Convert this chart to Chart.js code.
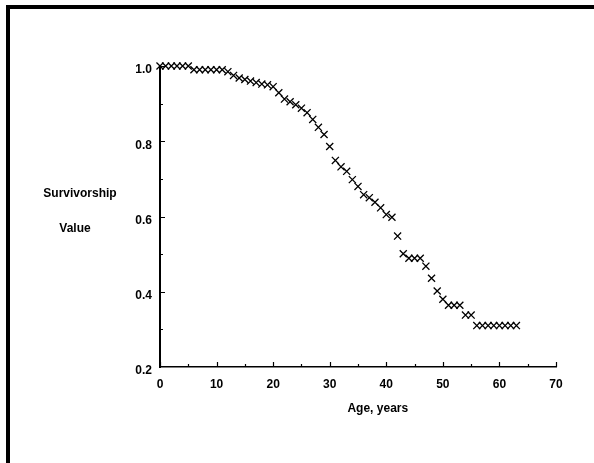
<!DOCTYPE html>
<html>
<head>
<meta charset="utf-8">
<script src="https://cdn.jsdelivr.net/npm/chart.js@4/dist/chart.umd.min.js"></script>
<style>
html, body { margin: 0; padding: 0; background: #fff; }
#wrap { position: relative; width: 594px; height: 463px; overflow: hidden; }
#frame { position: absolute; left: 6px; top: 5px; right: 0; bottom: 0; border-top: 4px solid #000; border-left: 4px solid #000; }
canvas { position: absolute; left: 0; top: 0; }
</style>
</head>
<body>
<div id="wrap">
  <div id="frame"></div>
  <canvas id="chart" width="594" height="463"></canvas>
</div>
<script>
// age (years) and survivorship
const ages = [
  0, 1, 2, 3, 4, 5, 6, 7, 8, 9,
  10, 11, 12, 13, 14, 15, 16, 17, 18, 19,
  20, 21, 22, 23, 24, 25, 26, 27, 28, 29,
  30, 31, 32, 33, 34, 35, 36, 37, 38, 39,
  40, 41, 42, 43, 44, 45, 46, 47, 48, 49,
  50, 51, 52, 53, 54, 55, 56, 57, 58, 59,
  60, 61, 62, 63
];
const survivorship = [
  1.0, 1.0, 1.0, 1.0, 1.0, 1.0, 0.99, 0.99, 0.99, 0.99,
  0.99, 0.99, 0.985, 0.975, 0.968, 0.964, 0.96, 0.956, 0.952, 0.95,
  0.945, 0.929, 0.912, 0.905, 0.897, 0.888, 0.876, 0.858, 0.837, 0.818,
  0.786, 0.749, 0.732, 0.72, 0.698, 0.68, 0.658, 0.65, 0.638, 0.623,
  0.605, 0.598, 0.548, 0.501, 0.489, 0.489, 0.489, 0.468, 0.436, 0.402,
  0.38, 0.364, 0.364, 0.364, 0.338, 0.338, 0.31, 0.31, 0.31, 0.31,
  0.31, 0.31, 0.31, 0.31
];

// tick marks drawn inward, like the original
const xTickMarks = [0, 5, 10, 15, 20, 25, 30, 35, 40, 45, 50, 55, 60, 65, 70];
const yTickMarks = [0.3, 0.4, 0.5, 0.6, 0.7, 0.8, 0.9, 1.0];

const yTitleLines = ['Survivorship', 'Value'];
const xTitle = 'Age, years';

const FONT = '"Liberation Sans", Arial, Helvetica, sans-serif';

const inwardTicks = {
  id: 'inwardTicks',
  afterDraw(chart) {
    const ctx = chart.ctx;
    const x = chart.scales.x, y = chart.scales.y;
    ctx.save();
    ctx.strokeStyle = '#000';
    ctx.lineWidth = 1.2;
    ctx.beginPath();
    for (const v of xTickMarks) {
      const px = Math.round(x.getPixelForValue(v)) + 0.5;
      const len = v % 10 === 0 ? 5 : 3;
      ctx.moveTo(px, y.bottom);
      ctx.lineTo(px, y.bottom - len);
    }
    for (const v of yTickMarks) {
      const py = Math.round(y.getPixelForValue(v)) + 0.5;
      const len = Math.round(v * 10) % 2 === 0 ? 5 : 3;
      ctx.moveTo(x.left, py);
      ctx.lineTo(x.left + len, py);
    }
    ctx.stroke();

    // axis titles, placed as in the scan
    ctx.fillStyle = '#000';
    ctx.font = 'bold 12px ' + FONT;
    ctx.textAlign = 'center';
    ctx.textBaseline = 'middle';
    ctx.fillText(yTitleLines[0], x.left - 80, y.getPixelForValue(0.66));
    ctx.fillText(yTitleLines[1], x.left - 85, y.getPixelForValue(0.567));
    ctx.fillText(xTitle, x.getPixelForValue(38.5), y.bottom + 42);
    ctx.restore();
  }
};

new Chart(document.getElementById('chart'), {
  type: 'scatter',
  data: {
    datasets: [{
      data: ages.map((a, i) => ({x: a, y: survivorship[i]})),
      pointStyle: 'crossRot',
      pointRadius: 5,
      pointHoverRadius: 5,
      borderColor: '#000',
      backgroundColor: '#000',
      borderWidth: 1.3,
      showLine: false,
      clip: false
    }]
  },
  options: {
    responsive: false,
    animation: false,
    events: [],
    layout: {padding: {left: 0, right: 38, top: 66, bottom: 0}},
    plugins: {legend: {display: false}, tooltip: {enabled: false}},
    scales: {
      x: {
        type: 'linear',
        min: 0,
        max: 70,
        afterFit: s => { s.height = 96; },
        grid: {drawOnChartArea: false, drawTicks: false},
        border: {color: '#000', width: 1.5},
        ticks: {
          stepSize: 10,
          padding: 10,
          color: '#000',
          font: {family: FONT, size: 12, weight: 'bold'}
        }
      },
      y: {
        type: 'linear',
        min: 0.2,
        max: 1.0,
        afterFit: s => { s.width = 160; },
        grid: {drawOnChartArea: false, drawTicks: false},
        border: {color: '#000', width: 2},
        ticks: {
          stepSize: 0.2,
          padding: 8,
          labelOffset: 4,
          color: '#000',
          font: {family: FONT, size: 12, weight: 'bold'},
          callback: v => v.toFixed(1)
        }
      }
    }
  },
  plugins: [inwardTicks]
});
</script>
</body>
</html>
